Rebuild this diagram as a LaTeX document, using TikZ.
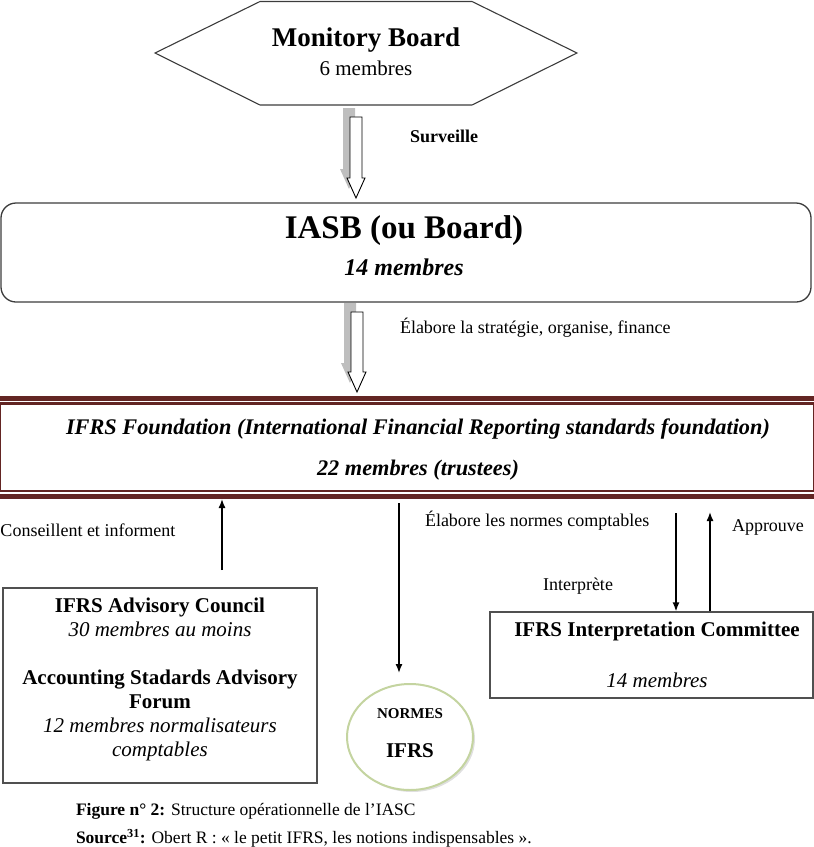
\documentclass[tikz,border=0pt]{standalone}
\usepackage{fontspec}
\setmainfont{Liberation Serif}
\usetikzlibrary{arrows.meta,shadows,shapes.geometric}
\definecolor{maroon}{RGB}{99,37,35}
\definecolor{olivering}{RGB}{196,212,160}
\definecolor{edgegray}{RGB}{60,60,60}
\definecolor{shadowgray}{RGB}{190,190,190}
% hollow block arrow with grey offset shadow: #1 x centre, #2 top y, #3 tip y
\newcommand\fatarrow[3]{%
  \fill[shadowgray] ({#1-13},{#2-9}) -- ({#1-1},{#2-9}) -- ({#1-1},{#3-29}) -- ({#1+2},{#3-29})
     -- ({#1-7},{#3-9}) -- ({#1-16},{#3-29}) -- ({#1-13},{#3-29}) -- cycle;
  \draw[fill=white, line width=0.9pt, line join=miter] ({#1-6},{#2}) -- ({#1+6},{#2}) -- ({#1+6},{#3-20}) -- ({#1+9},{#3-20})
     -- ({#1},{#3}) -- ({#1-9},{#3-20}) -- ({#1-6},{#3-20}) -- cycle;
}
\begin{document}
\begin{tikzpicture}[x=1pt,y=-1pt,
  txt/.style={inner sep=0pt, outer sep=0pt},
  lbl/.style={txt, font=\fontsize{18}{21}\selectfont},
  frame/.style={draw=edgegray, line width=1.3pt},
  link/.style={line width=1.4pt, -{Latex[length=9pt,width=7pt]}},
  boxtxt/.style={txt, font=\fontsize{21}{24}\selectfont, align=center}
]
\useasboundingbox (0,0) rectangle (814,847);

% ---------- Monitory Board ----------
\draw[frame, line width=1.1pt] (155,53) -- (260,1.5) -- (472,1.5) -- (577,53) -- (472,105) -- (260,105) -- cycle;
\coordinate (mon) at (366,53);
\node[txt, font=\fontsize{27}{30}\selectfont\bfseries] (montitle) at (366,40) {Monitory Board};
\node[txt, font=\fontsize{21}{24}\selectfont] (monsub) at (366,68) {6 membres};

% arrow Monitory -> IASB
\fatarrow{356}{117}{198}
\node[txt, font=\fontsize{18}{21}\selectfont\bfseries] (surv) at (444,136) {Surveille};

% ---------- IASB ----------
\node[frame, rounded corners=15pt, minimum width=810pt, minimum height=99pt] (iasb) at (406,252.5) {};
\node[txt, font=\fontsize{33}{36}\selectfont\bfseries] (iasbtitle) at (404,231) {IASB (ou Board)};
\node[txt, font=\fontsize{24}{27}\selectfont\bfseries\itshape] (iasbsub) at (404,267) {14 membres};

% arrow IASB -> Foundation
\fatarrow{357}{312}{392}
\node[lbl, anchor=west] (elab1) at (400,328) {Élabore la stratégie, organise, finance};

% ---------- IFRS Foundation ----------
\node[txt, minimum width=814pt, minimum height=103pt] (found) at (407,447.5) {};
\fill[maroon] (0,396) rectangle (814,400.5);
\fill[maroon] (0,402.3) rectangle (814,404.6);
\fill[maroon] (0,490) rectangle (814,492.3);
\fill[maroon] (0,494) rectangle (814,498.5);
\draw[maroon, line width=1.2pt] (0.8,404.6) -- (0.8,490);
\draw[maroon, line width=1.2pt] (813.2,404.6) -- (813.2,490);
\node[txt, font=\fontsize{22.3}{25}\selectfont\bfseries\itshape] (foundtitle) at (418,429) {IFRS Foundation (International Financial Reporting standards foundation)};
\node[txt, font=\fontsize{22.3}{25}\selectfont\bfseries\itshape] (foundsub) at (418,470) {22 membres (trustees)};

% ---------- Advisory Council ----------
\node[frame, draw=edgegray!90, minimum width=314pt, minimum height=195pt] (adv) at (160,685.5) {};
\node[boxtxt] (advtext) at (160,679) {\textbf{IFRS Advisory Council}\\
  \textit{30 membres au moins}\\[24pt]
  \textbf{Accounting Stadards Advisory}\\
  \textbf{Forum}\\
  \textit{12 membres normalisateurs}\\
  \textit{comptables}};

% ---------- Interpretation Committee ----------
\node[frame, draw=edgegray!90, minimum width=323pt, minimum height=86pt] (interp) at (651.5,655) {};
\node[boxtxt, font=\fontsize{21}{24}\selectfont\bfseries] (interptitle) at (657,631) {IFRS Interpretation Committee};
\node[boxtxt, font=\fontsize{21}{24}\selectfont\itshape] (interpsub) at (657,680) {14 membres};

% ---------- NORMES IFRS ----------
\node[draw=olivering, line width=2pt, fill=white, ellipse, minimum width=126pt, minimum height=106pt,
      drop shadow={opacity=0.25, shadow xshift=2pt, shadow yshift=-2pt}] (normes) at (410,737) {};
\node[txt, font=\fontsize{15}{18}\selectfont\bfseries] (normestitle) at (410,714) {NORMES};
\node[txt, font=\fontsize{21}{24}\selectfont\bfseries] (normesifrs) at (410,751) {IFRS};

% ---------- lower connectors ----------
\coordinate (a1s) at (222,570);
\draw[link] (a1s) -- (a1s |- found.south);
\node[lbl, anchor=west] (conseil) at (0.5,530) {Conseillent et informent};

\coordinate (a2s) at (399,503);
\coordinate (a2e) at (399,673);
\draw[link] (a2s) -- (a2e);
\node[lbl, anchor=west] (elab2) at (425,521) {Élabore les normes comptables};

\coordinate (a3s) at (676,513);
\draw[link] (a3s) -- (a3s |- interp.north);
\coordinate (a4e) at (710,512);
\draw[link] (a4e |- interp.north) -- (a4e);
\node[lbl, anchor=west] (approuve) at (732,527) {Approuve};
\node[lbl] (interprete) at (578,586) {Interprète};

% ---------- caption ----------
\node[txt, anchor=west, font=\fontsize{17.5}{20}\selectfont] (fig) at (76,811) {\textbf{Figure n° 2:} Structure opérationnelle de l’IASC};
\node[txt, anchor=west, font=\fontsize{17.5}{20}\selectfont] (src) at (76,838) {\textbf{Source\textsuperscript{31}:} Obert R : « le petit IFRS, les notions indispensables ».};
\end{tikzpicture}
\end{document}
